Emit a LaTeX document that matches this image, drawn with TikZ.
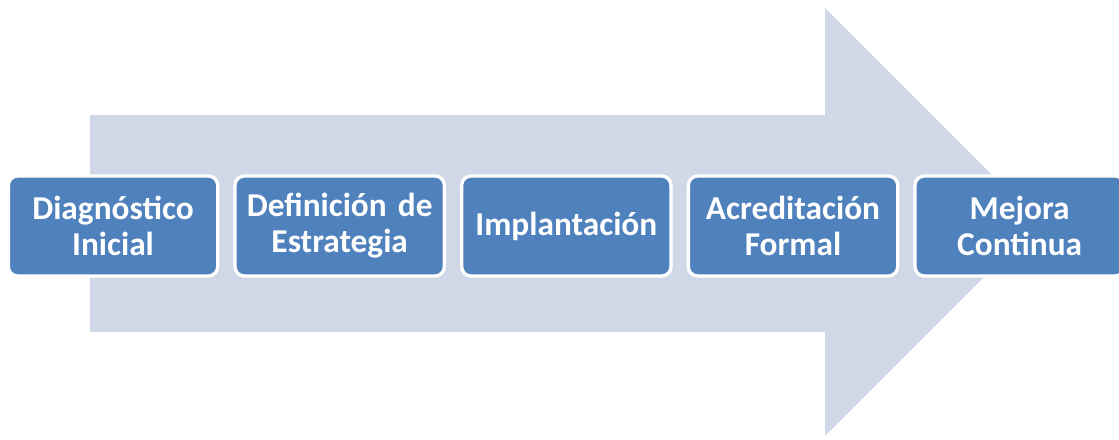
\documentclass[tikz,border=0pt]{standalone}
\usepackage{fontspec}
\setmainfont{Carlito}
\usetikzlibrary{positioning}

\definecolor{arrowgray}{HTML}{D0D8E8}
\definecolor{phaseblue}{HTML}{4F81BD}

\tikzset{
    phase/.style={draw=white, line width=2.5pt, fill=phaseblue, rounded corners=7pt,
        minimum width=157pt, minimum height=75pt, text width=150pt, align=center,
        text=white, font=\bfseries\fontsize{25}{27}\selectfont, inner sep=0pt, outer sep=0pt}
}

\begin{document}
\begin{tikzpicture}[x=0.75pt, y=-0.75pt]
    \useasboundingbox (0,0) rectangle (1119,439);

    % Big background arrow
    \fill[arrowgray] (90,115) -- (825,115) -- (825,8) -- (1039,222)
        -- (825,436) -- (825,332) -- (90,332) -- cycle;

    % Phases
    \node[phase] (diag) at (113,226) {Diagnóstico\\Inicial};
    \node[phase, right=13pt of diag] (estr) {Definición de\\Estrategia};
    \node[phase, right=13pt of estr] (impl) {Implantación};
    \node[phase, right=13pt of impl] (acred) {Acreditación\\Formal};
    \node[phase, right=13pt of acred] (mejora) {Mejora\\Continua};
\end{tikzpicture}
\end{document}
